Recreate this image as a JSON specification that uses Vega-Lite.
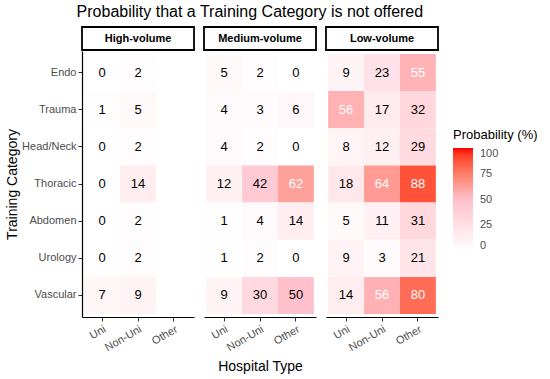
{
  "$schema": "https://vega.github.io/schema/vega-lite/v6.json",
  "padding": {"left": 5, "top": 4, "right": 5, "bottom": 5},
  "background": "white",
  "title": {"text": "Probability that a Training Category is not offered", "font": "Liberation Sans", "fontSize": 16, "fontWeight": "normal", "color": "black", "anchor": "start", "dx": 71, "offset": 6},
  "datasets": {
    "cells": [
      {"panel": "High-volume", "type": "Uni", "cat": "Endo", "p": 0},
      {"panel": "High-volume", "type": "Uni", "cat": "Trauma", "p": 1},
      {"panel": "High-volume", "type": "Uni", "cat": "Head/Neck", "p": 0},
      {"panel": "High-volume", "type": "Uni", "cat": "Thoracic", "p": 0},
      {"panel": "High-volume", "type": "Uni", "cat": "Abdomen", "p": 0},
      {"panel": "High-volume", "type": "Uni", "cat": "Urology", "p": 0},
      {"panel": "High-volume", "type": "Uni", "cat": "Vascular", "p": 7},
      {"panel": "High-volume", "type": "Non-Uni", "cat": "Endo", "p": 2},
      {"panel": "High-volume", "type": "Non-Uni", "cat": "Trauma", "p": 5},
      {"panel": "High-volume", "type": "Non-Uni", "cat": "Head/Neck", "p": 2},
      {"panel": "High-volume", "type": "Non-Uni", "cat": "Thoracic", "p": 14},
      {"panel": "High-volume", "type": "Non-Uni", "cat": "Abdomen", "p": 2},
      {"panel": "High-volume", "type": "Non-Uni", "cat": "Urology", "p": 2},
      {"panel": "High-volume", "type": "Non-Uni", "cat": "Vascular", "p": 9},
      {"panel": "Medium-volume", "type": "Uni", "cat": "Endo", "p": 5},
      {"panel": "Medium-volume", "type": "Uni", "cat": "Trauma", "p": 4},
      {"panel": "Medium-volume", "type": "Uni", "cat": "Head/Neck", "p": 4},
      {"panel": "Medium-volume", "type": "Uni", "cat": "Thoracic", "p": 12},
      {"panel": "Medium-volume", "type": "Uni", "cat": "Abdomen", "p": 1},
      {"panel": "Medium-volume", "type": "Uni", "cat": "Urology", "p": 1},
      {"panel": "Medium-volume", "type": "Uni", "cat": "Vascular", "p": 9},
      {"panel": "Medium-volume", "type": "Non-Uni", "cat": "Endo", "p": 2},
      {"panel": "Medium-volume", "type": "Non-Uni", "cat": "Trauma", "p": 3},
      {"panel": "Medium-volume", "type": "Non-Uni", "cat": "Head/Neck", "p": 2},
      {"panel": "Medium-volume", "type": "Non-Uni", "cat": "Thoracic", "p": 42},
      {"panel": "Medium-volume", "type": "Non-Uni", "cat": "Abdomen", "p": 4},
      {"panel": "Medium-volume", "type": "Non-Uni", "cat": "Urology", "p": 2},
      {"panel": "Medium-volume", "type": "Non-Uni", "cat": "Vascular", "p": 30},
      {"panel": "Medium-volume", "type": "Other", "cat": "Endo", "p": 0},
      {"panel": "Medium-volume", "type": "Other", "cat": "Trauma", "p": 6},
      {"panel": "Medium-volume", "type": "Other", "cat": "Head/Neck", "p": 0},
      {"panel": "Medium-volume", "type": "Other", "cat": "Thoracic", "p": 62},
      {"panel": "Medium-volume", "type": "Other", "cat": "Abdomen", "p": 14},
      {"panel": "Medium-volume", "type": "Other", "cat": "Urology", "p": 0},
      {"panel": "Medium-volume", "type": "Other", "cat": "Vascular", "p": 50},
      {"panel": "Low-volume", "type": "Uni", "cat": "Endo", "p": 9},
      {"panel": "Low-volume", "type": "Uni", "cat": "Trauma", "p": 56},
      {"panel": "Low-volume", "type": "Uni", "cat": "Head/Neck", "p": 8},
      {"panel": "Low-volume", "type": "Uni", "cat": "Thoracic", "p": 18},
      {"panel": "Low-volume", "type": "Uni", "cat": "Abdomen", "p": 5},
      {"panel": "Low-volume", "type": "Uni", "cat": "Urology", "p": 9},
      {"panel": "Low-volume", "type": "Uni", "cat": "Vascular", "p": 14},
      {"panel": "Low-volume", "type": "Non-Uni", "cat": "Endo", "p": 23},
      {"panel": "Low-volume", "type": "Non-Uni", "cat": "Trauma", "p": 17},
      {"panel": "Low-volume", "type": "Non-Uni", "cat": "Head/Neck", "p": 12},
      {"panel": "Low-volume", "type": "Non-Uni", "cat": "Thoracic", "p": 64},
      {"panel": "Low-volume", "type": "Non-Uni", "cat": "Abdomen", "p": 11},
      {"panel": "Low-volume", "type": "Non-Uni", "cat": "Urology", "p": 3},
      {"panel": "Low-volume", "type": "Non-Uni", "cat": "Vascular", "p": 56},
      {"panel": "Low-volume", "type": "Other", "cat": "Endo", "p": 55},
      {"panel": "Low-volume", "type": "Other", "cat": "Trauma", "p": 32},
      {"panel": "Low-volume", "type": "Other", "cat": "Head/Neck", "p": 29},
      {"panel": "Low-volume", "type": "Other", "cat": "Thoracic", "p": 88},
      {"panel": "Low-volume", "type": "Other", "cat": "Abdomen", "p": 31},
      {"panel": "Low-volume", "type": "Other", "cat": "Urology", "p": 21},
      {"panel": "Low-volume", "type": "Other", "cat": "Vascular", "p": 80}
    ]
  },
  "config": {
    "view": {"stroke": null},
    "font": "Liberation Sans",
    "axis": {"domainColor": "black", "domainWidth": 1.2, "tickColor": "#333333", "tickSize": 4, "labelColor": "#4d4d4d", "labelFontSize": 11, "labelFont": "Liberation Sans", "titleFont": "Liberation Sans", "titleFontSize": 14, "titleFontWeight": "normal", "titleColor": "black", "grid": false},
    "legend": {"titleFont": "Liberation Sans", "labelFont": "Liberation Sans"}
  },
  "hconcat": [
    {
      "spacing": 0,
      "vconcat": [
        {
          "data": {"values": [{"panel": "High-volume"}]},
          "width": 112, "height": 23,
          "encoding": {"x": {"field": "panel", "type": "nominal", "axis": null, "scale": {"paddingInner": 0, "paddingOuter": 0}}},
          "layer": [
            {"mark": {"type": "rect", "fill": "white", "stroke": "black", "strokeWidth": 1.8}},
            {"mark": {"type": "text", "fontWeight": "bold", "fontSize": 11, "color": "black"}, "encoding": {"text": {"field": "panel"}}}
          ]
        },
        {
          "data": {"name": "cells"},
          "transform": [{"filter": "datum.panel === 'High-volume'"}],
          "width": 112, "height": 266,
          "encoding": {
            "x": {"field": "type", "type": "nominal", "scale": {"domain": ["Uni", "Non-Uni", "Other"], "paddingInner": 0, "paddingOuter": 0.06}, "axis": {"title": null, "labelAngle": -30, "labelAlign": "right", "labelBaseline": "top", "labelPadding": 2}},
            "y": {"field": "cat", "type": "nominal", "scale": {"domain": ["Endo", "Trauma", "Head/Neck", "Thoracic", "Abdomen", "Urology", "Vascular"], "paddingInner": 0, "paddingOuter": 0.08}, "axis": {"title": "Training Category", "titlePadding": 2}}
          },
          "layer": [
            {"mark": {"type": "rect"}, "encoding": {"color": {"field": "p", "type": "quantitative", "title": "Probability (%)", "scale": {"domain": [0, 50, 100], "range": ["#ffffff", "#ffc0cb", "#ff0000"], "interpolate": "lab"}}}},
            {"mark": {"type": "text", "fontSize": 13}, "encoding": {"text": {"field": "p", "type": "quantitative"}, "color": {"condition": {"test": "datum.p > 50", "value": "white"}, "value": "black"}}}
          ]
        }
      ]
    },
    {
      "spacing": 0,
      "vconcat": [
        {
          "data": {"values": [{"panel": "Medium-volume"}]},
          "width": 112, "height": 23,
          "encoding": {"x": {"field": "panel", "type": "nominal", "axis": null, "scale": {"paddingInner": 0, "paddingOuter": 0}}},
          "layer": [
            {"mark": {"type": "rect", "fill": "white", "stroke": "black", "strokeWidth": 1.8}},
            {"mark": {"type": "text", "fontWeight": "bold", "fontSize": 11, "color": "black"}, "encoding": {"text": {"field": "panel"}}}
          ]
        },
        {
          "data": {"name": "cells"},
          "transform": [{"filter": "datum.panel === 'Medium-volume'"}],
          "width": 112, "height": 266,
          "encoding": {
            "x": {"field": "type", "type": "nominal", "scale": {"domain": ["Uni", "Non-Uni", "Other"], "paddingInner": 0, "paddingOuter": 0.06}, "axis": {"title": "Hospital Type", "labelAngle": -30, "labelAlign": "right", "labelBaseline": "top", "labelPadding": 2, "titlePadding": 7}},
            "y": {"field": "cat", "type": "nominal", "scale": {"domain": ["Endo", "Trauma", "Head/Neck", "Thoracic", "Abdomen", "Urology", "Vascular"], "paddingInner": 0, "paddingOuter": 0.08}, "axis": null}
          },
          "layer": [
            {"mark": {"type": "rect"}, "encoding": {"color": {"field": "p", "type": "quantitative", "title": "Probability (%)", "scale": {"domain": [0, 50, 100], "range": ["#ffffff", "#ffc0cb", "#ff0000"], "interpolate": "lab"}}}},
            {"mark": {"type": "text", "fontSize": 13}, "encoding": {"text": {"field": "p", "type": "quantitative"}, "color": {"condition": {"test": "datum.p > 50", "value": "white"}, "value": "black"}}}
          ]
        }
      ]
    },
    {
      "spacing": 0,
      "vconcat": [
        {
          "data": {"values": [{"panel": "Low-volume"}]},
          "width": 112, "height": 23,
          "encoding": {"x": {"field": "panel", "type": "nominal", "axis": null, "scale": {"paddingInner": 0, "paddingOuter": 0}}},
          "layer": [
            {"mark": {"type": "rect", "fill": "white", "stroke": "black", "strokeWidth": 1.8}},
            {"mark": {"type": "text", "fontWeight": "bold", "fontSize": 11, "color": "black"}, "encoding": {"text": {"field": "panel"}}}
          ]
        },
        {
          "data": {"name": "cells"},
          "transform": [{"filter": "datum.panel === 'Low-volume'"}],
          "width": 112, "height": 266,
          "encoding": {
            "x": {"field": "type", "type": "nominal", "scale": {"domain": ["Uni", "Non-Uni", "Other"], "paddingInner": 0, "paddingOuter": 0.06}, "axis": {"title": null, "labelAngle": -30, "labelAlign": "right", "labelBaseline": "top", "labelPadding": 2}},
            "y": {"field": "cat", "type": "nominal", "scale": {"domain": ["Endo", "Trauma", "Head/Neck", "Thoracic", "Abdomen", "Urology", "Vascular"], "paddingInner": 0, "paddingOuter": 0.08}, "axis": null}
          },
          "layer": [
            {"mark": {"type": "rect"}, "encoding": {"color": {"field": "p", "type": "quantitative", "title": "Probability (%)", "scale": {"domain": [0, 50, 100], "range": ["#ffffff", "#ffc0cb", "#ff0000"], "interpolate": "lab"}, "legend": {"orient": "none", "legendX": 371, "legendY": 102, "values": [0, 25, 50, 75, 100], "gradientLength": 103, "gradientThickness": 20, "titleFontSize": 13, "titleFontWeight": "normal", "titleColor": "black", "labelFontSize": 11, "labelColor": "#4d4d4d", "labelOffset": 7, "titlePadding": 6}}}},
            {"mark": {"type": "text", "fontSize": 13}, "encoding": {"text": {"field": "p", "type": "quantitative"}, "color": {"condition": {"test": "datum.p > 50", "value": "white"}, "value": "black"}}}
          ]
        }
      ]
    }
  ],
  "spacing": 8,
  "resolve": {"scale": {"color": "shared"}}
}
